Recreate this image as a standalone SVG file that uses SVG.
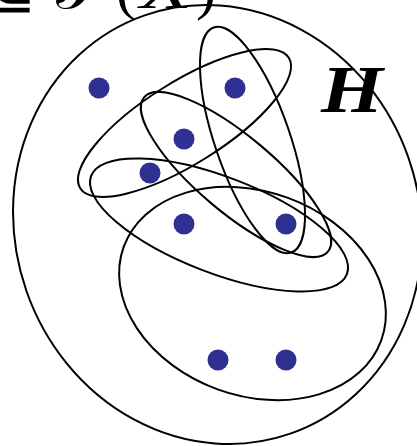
<svg xmlns="http://www.w3.org/2000/svg" width="417" height="446" viewBox="0 0 417 446">
  <style>
    .edge { fill: none; stroke: #000; stroke-width: 2; }
    .v { fill: #2e3192; }
    .math { font-family: "Liberation Serif", "DejaVu Serif", serif; fill: #000; }
  </style>
  <rect width="417" height="446" fill="#fff"/>
  <g id="title">
    <text class="math" x="36" y="8" font-size="60" text-anchor="end">⊆</text>
    <text class="math" x="56" y="8" font-size="60">𝒫</text>
    <text class="math" x="116" y="8" font-size="60">(</text>
    <text class="math" x="140" y="8" font-size="60" font-style="italic" textLength="52" lengthAdjust="spacingAndGlyphs">X</text>
    <text class="math" x="196" y="8" font-size="60">)</text>
  </g>
  <g id="label-H">
    <text class="math" x="321" y="112" font-size="68" font-weight="bold" font-style="italic" textLength="62" lengthAdjust="spacingAndGlyphs">H</text>
  </g>
  <g id="hyperedges">
    <ellipse id="outer" class="edge" cx="217.5" cy="224.5" rx="202.3" ry="221.5" transform="rotate(-19.2 217.5 224.5)"/>
    <ellipse id="e1" class="edge" cx="184.5" cy="123" rx="123" ry="41" transform="rotate(-32 184.5 123)"/>
    <ellipse id="e2" class="edge" cx="252.5" cy="140" rx="37.5" ry="119" transform="rotate(-19 252.5 140)"/>
    <ellipse id="e3" class="edge" cx="236" cy="174.5" rx="120" ry="38" transform="rotate(40 236 174.5)"/>
    <ellipse id="e4" class="edge" cx="219" cy="225" rx="137" ry="48" transform="rotate(21 219 225)"/>
    <ellipse id="e5" class="edge" cx="252.5" cy="293.5" rx="137" ry="102" transform="rotate(20 252.5 293.5)"/>
  </g>
  <g id="v1"><circle class="v" cx="99" cy="88" r="10.5"/></g>
  <g id="v2"><circle class="v" cx="235" cy="88" r="10.5"/></g>
  <g id="v3"><circle class="v" cx="184" cy="139" r="10.5"/></g>
  <g id="v4"><circle class="v" cx="150" cy="173" r="10.5"/></g>
  <g id="v5"><circle class="v" cx="184" cy="224" r="10.5"/></g>
  <g id="v6"><circle class="v" cx="286" cy="224" r="10.5"/></g>
  <g id="v7"><circle class="v" cx="218" cy="360" r="10.5"/></g>
  <g id="v8"><circle class="v" cx="286" cy="360" r="10.5"/></g>
</svg>
